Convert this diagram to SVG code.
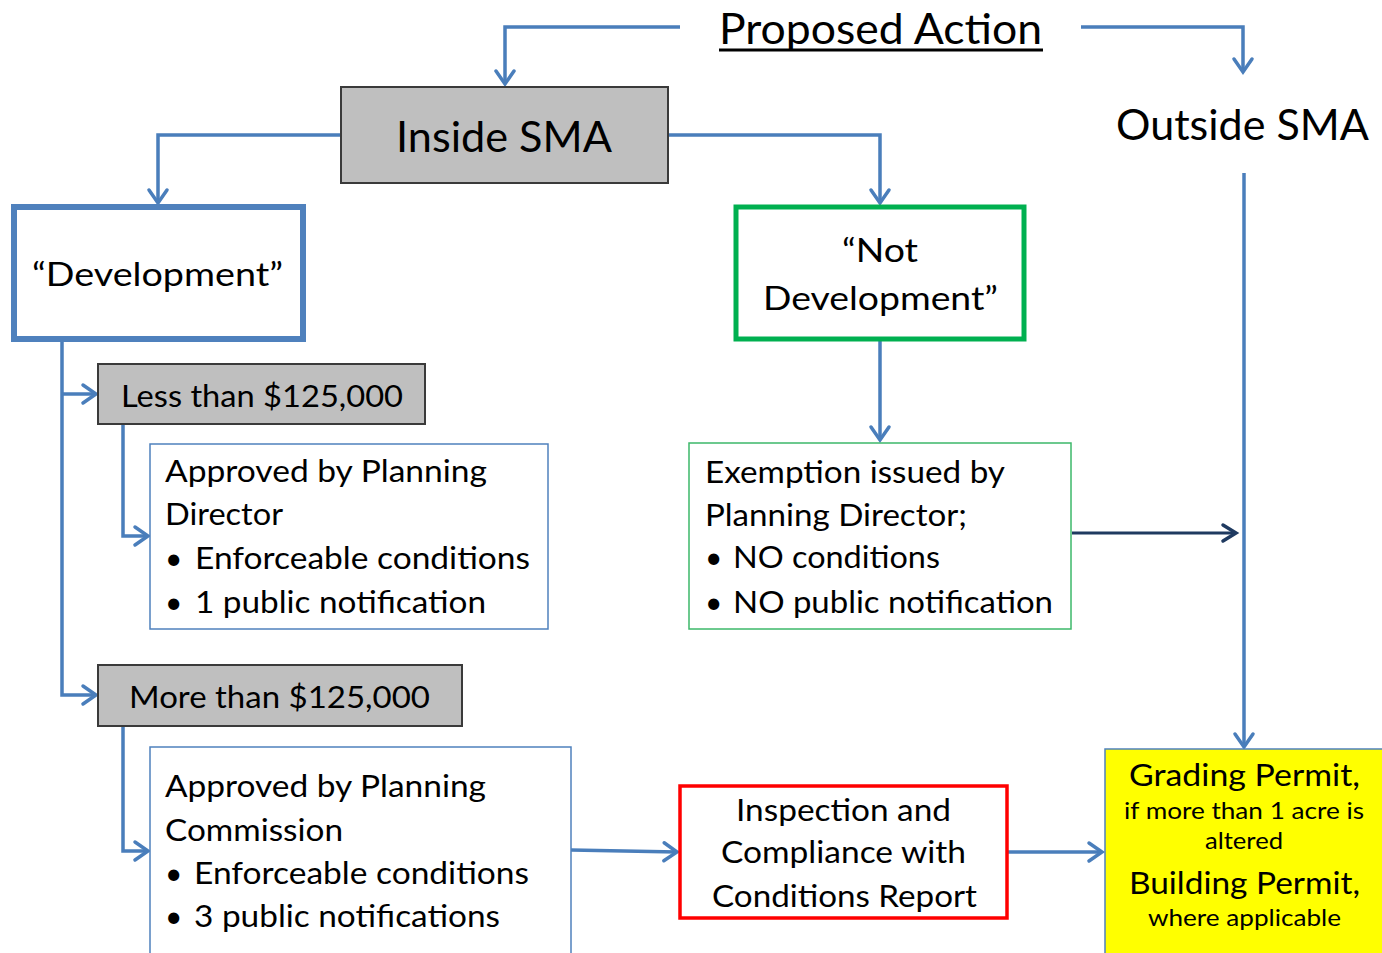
<svg xmlns="http://www.w3.org/2000/svg" width="1382" height="953" viewBox="0 0 1382 953">
<style>
text{font-family:Lato,"Open Sans","Liberation Sans",sans-serif;fill:#000}
.big{font-size:42px}
.mid{font-size:33px}
.body{font-size:30px}
.small{font-size:23px}
.conn{fill:none;stroke:#4A7EBB;stroke-width:3.5;stroke-linejoin:miter}
.navy{fill:none;stroke:#1F3A60;stroke-width:3}
.gray{fill:#BFBFBF;stroke:#3A3A3A;stroke-width:2}
</style>
<defs>
<marker id="ah" markerUnits="userSpaceOnUse" markerWidth="30" markerHeight="30" viewBox="-20 -15 30 30" refX="0" refY="0" orient="auto" overflow="visible">
<path d="M-13,-9 L0,0 L-13,9" fill="none" stroke="#4A7EBB" stroke-width="3.5" stroke-linecap="round" stroke-linejoin="miter"/>
</marker>
<marker id="ahn" markerUnits="userSpaceOnUse" markerWidth="30" markerHeight="30" viewBox="-20 -15 30 30" refX="0" refY="0" orient="auto" overflow="visible">
<path d="M-13,-8 L0,0 L-13,8" fill="none" stroke="#1F3A60" stroke-width="3.5" stroke-linecap="round"/>
</marker>
</defs>
<rect x="0" y="0" width="1382" height="953" fill="#FFFFFF"/>

<g id="connectors">
<path class="conn" d="M680,27 H505 V84" marker-end="url(#ah)"/>
<path class="conn" d="M1081,27 H1243 V72" marker-end="url(#ah)"/>
<path class="conn" d="M341,135 H158 V203" marker-end="url(#ah)"/>
<path class="conn" d="M668,135 H880 V203" marker-end="url(#ah)"/>
<path class="conn" d="M1244,173 V747" marker-end="url(#ah)"/>
<path class="conn" d="M62,340 V695 H96" marker-end="url(#ah)"/>
<path class="conn" d="M62,394 H96" marker-end="url(#ah)"/>
<path class="conn" d="M123,424 V536 H148" marker-end="url(#ah)"/>
<path class="conn" d="M123,726 V851 H148" marker-end="url(#ah)"/>
<path class="conn" d="M880,340 V440" marker-end="url(#ah)"/>
<path class="conn" d="M571,850 L677,852" marker-end="url(#ah)"/>
<path class="conn" d="M1008,852 H1102" marker-end="url(#ah)"/>
<path class="navy" d="M1072,533 H1236" marker-end="url(#ahn)"/>
</g>

<g id="proposed-action">
<text class="big" x="719" y="44" textLength="323" lengthAdjust="spacingAndGlyphs">Proposed Action</text>
<line x1="719" y1="50" x2="1043" y2="50" stroke="#000" stroke-width="3"/>
</g>

<g id="inside-sma">
<rect class="gray" x="341" y="87" width="327" height="96"/>
<text class="big" x="396" y="152" textLength="216" lengthAdjust="spacingAndGlyphs">Inside SMA</text>
</g>

<g id="outside-sma">
<text class="big" x="1116" y="140" textLength="253" lengthAdjust="spacingAndGlyphs">Outside SMA</text>
</g>

<g id="development">
<rect x="14" y="207" width="289" height="132" fill="#FFFFFF" stroke="#4F81BD" stroke-width="6"/>
<text class="mid" x="32" y="286" textLength="251" lengthAdjust="spacingAndGlyphs">“Development”</text>
</g>

<g id="not-development">
<rect x="736" y="207" width="288" height="132" fill="#FFFFFF" stroke="#00B050" stroke-width="5"/>
<text class="mid" x="842" y="262" textLength="76" lengthAdjust="spacingAndGlyphs">“Not</text>
<text class="mid" x="763" y="310" textLength="235" lengthAdjust="spacingAndGlyphs">Development”</text>
</g>

<g id="less-than">
<rect class="gray" x="98" y="364" width="327" height="60"/>
<text class="body" x="121" y="407" textLength="282" lengthAdjust="spacingAndGlyphs">Less than $125,000</text>
</g>

<g id="approved-director">
<rect x="150" y="444" width="398" height="185" fill="#FFFFFF" stroke="#4F81BD" stroke-width="1.5"/>
<text class="body" x="165" y="482" textLength="322" lengthAdjust="spacingAndGlyphs">Approved by Planning</text>
<text class="body" x="165" y="525" textLength="118" lengthAdjust="spacingAndGlyphs">Director</text>
<text class="body" x="165" y="569">•</text>
<text class="body" x="195" y="569" textLength="335" lengthAdjust="spacingAndGlyphs">Enforceable conditions</text>
<text class="body" x="165" y="613">•</text>
<text class="body" x="195" y="613" textLength="291" lengthAdjust="spacingAndGlyphs">1 public notification</text>
</g>

<g id="exemption">
<rect x="689" y="443" width="382" height="186" fill="#FFFFFF" stroke="#3DB86A" stroke-width="1.5"/>
<text class="body" x="705" y="483" textLength="300" lengthAdjust="spacingAndGlyphs">Exemption issued by</text>
<text class="body" x="705" y="526" textLength="262" lengthAdjust="spacingAndGlyphs">Planning Director;</text>
<text class="body" x="705" y="568">•</text>
<text class="body" x="733" y="568" textLength="207" lengthAdjust="spacingAndGlyphs">NO conditions</text>
<text class="body" x="705" y="613">•</text>
<text class="body" x="733" y="613" textLength="320" lengthAdjust="spacingAndGlyphs">NO public notification</text>
</g>

<g id="more-than">
<rect class="gray" x="98" y="665" width="364" height="61"/>
<text class="body" x="129" y="708" textLength="301" lengthAdjust="spacingAndGlyphs">More than $125,000</text>
</g>

<g id="approved-commission">
<rect x="150" y="747" width="421" height="220" fill="#FFFFFF" stroke="#4F81BD" stroke-width="1.5"/>
<text class="body" x="165" y="797" textLength="321" lengthAdjust="spacingAndGlyphs">Approved by Planning</text>
<text class="body" x="165" y="841" textLength="178" lengthAdjust="spacingAndGlyphs">Commission</text>
<text class="body" x="165" y="884">•</text>
<text class="body" x="194" y="884" textLength="335" lengthAdjust="spacingAndGlyphs">Enforceable conditions</text>
<text class="body" x="165" y="927">•</text>
<text class="body" x="194" y="927" textLength="306" lengthAdjust="spacingAndGlyphs">3 public notifications</text>
</g>

<g id="inspection">
<rect x="680" y="786" width="327" height="132" fill="#FFFFFF" stroke="#FF0000" stroke-width="3.5"/>
<text class="body" x="736" y="821" textLength="215" lengthAdjust="spacingAndGlyphs">Inspection and</text>
<text class="body" x="721" y="863" textLength="245" lengthAdjust="spacingAndGlyphs">Compliance with</text>
<text class="body" x="712" y="907" textLength="265" lengthAdjust="spacingAndGlyphs">Conditions Report</text>
</g>

<g id="permits">
<rect x="1105" y="749" width="290" height="220" fill="#FFFF00" stroke="#4F81BD" stroke-width="1.5"/>
<text class="body" x="1129" y="786" textLength="231" lengthAdjust="spacingAndGlyphs">Grading Permit,</text>
<text class="small" x="1124" y="819" textLength="240" lengthAdjust="spacingAndGlyphs">if more than 1 acre is</text>
<text class="small" x="1205" y="849" textLength="78" lengthAdjust="spacingAndGlyphs">altered</text>
<text class="body" x="1129" y="894" textLength="231" lengthAdjust="spacingAndGlyphs">Building Permit,</text>
<text class="small" x="1148" y="926" textLength="193" lengthAdjust="spacingAndGlyphs">where applicable</text>
</g>
</svg>
